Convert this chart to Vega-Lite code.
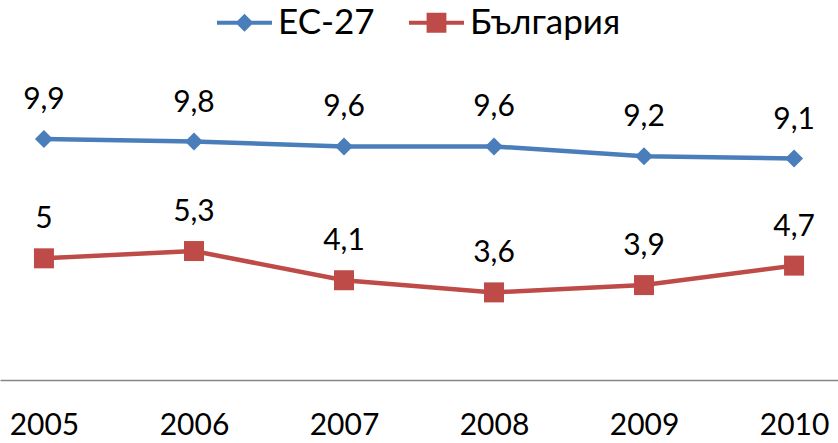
{
  "$schema": "https://vega.github.io/schema/vega-lite/v6.json",
  "width": 838,
  "height": 292,
  "autosize": {"type": "none"},
  "padding": {"top": 88, "left": 0, "right": 0, "bottom": 63},
  "config": {
    "view": {"stroke": null},
    "font": "Lato",
    "locale": {"number": {"decimal": ",", "thousands": " ", "grouping": [3], "currency": ["", ""]}}
  },
  "data": {
    "values": [
      {"year": "2005", "series": "ЕС-27", "value": 9.9},
      {"year": "2006", "series": "ЕС-27", "value": 9.8},
      {"year": "2007", "series": "ЕС-27", "value": 9.6},
      {"year": "2008", "series": "ЕС-27", "value": 9.6},
      {"year": "2009", "series": "ЕС-27", "value": 9.2},
      {"year": "2010", "series": "ЕС-27", "value": 9.1},
      {"year": "2005", "series": "България", "value": 5.0},
      {"year": "2006", "series": "България", "value": 5.3},
      {"year": "2007", "series": "България", "value": 4.1},
      {"year": "2008", "series": "България", "value": 3.6},
      {"year": "2009", "series": "България", "value": 3.9},
      {"year": "2010", "series": "България", "value": 4.7}
    ]
  },
  "encoding": {
    "x": {
      "field": "year",
      "type": "ordinal",
      "scale": {"type": "point", "padding": 0.293},
      "axis": {
        "title": null,
        "labelAngle": 0,
        "labelFont": "Lato",
        "labelFontSize": 30,
        "labelColor": "#000000",
        "labelPadding": 30,
        "ticks": false,
        "grid": false,
        "domainColor": "#868686",
        "domainWidth": 1.5
      }
    },
    "y": {
      "field": "value",
      "type": "quantitative",
      "scale": {"domain": [0, 12], "nice": false, "zero": true},
      "axis": null
    }
  },
  "layer": [
    {
      "mark": {"type": "line", "strokeWidth": 4.5},
      "encoding": {
        "color": {
          "field": "series",
          "type": "nominal",
          "scale": {"domain": ["ЕС-27", "България"], "range": ["#4a7ebb", "#be4b48"]},
          "legend": {
            "title": null,
            "orient": "none",
            "legendX": 217,
            "legendY": -93,
            "padding": 0,
            "direction": "horizontal",
            "labelFont": "Lato",
            "labelFontSize": 35,
            "labelColor": "#000000",
            "labelOffset": 6,
            "columnPadding": 34,
            "symbolSize": 3025,
            "encode": {
              "symbols": {
                "update": {
                  "shape": {"signal": "datum.value === 'ЕС-27' ? 'M-1,-0.075L-0.255,-0.075L0,-0.33L0.255,-0.075L1,-0.075L1,0.075L0.255,0.075L0,0.33L-0.255,0.075L-1,0.075Z' : 'M-1,-0.075L-0.36,-0.075L-0.36,-0.36L0.36,-0.36L0.36,-0.075L1,-0.075L1,0.075L0.36,0.075L0.36,0.36L-0.36,0.36L-0.36,0.075L-1,0.075Z'"},
                  "size": {"value": 3025},
                  "fill": {"signal": "scale('color', datum.value)"},
                  "fillOpacity": {"value": 1},
                  "strokeWidth": {"value": 0}
                }
              }
            }
          }
        }
      }
    },
    {
      "transform": [{"filter": "datum.series === 'ЕС-27'"}],
      "mark": {"type": "point", "filled": true, "opacity": 1, "shape": "diamond", "size": 324, "color": "#4a7ebb"}
    },
    {
      "transform": [{"filter": "datum.series === 'България'"}],
      "mark": {"type": "point", "filled": true, "opacity": 1, "shape": "square", "size": 400, "color": "#be4b48"}
    },
    {
      "mark": {"type": "text", "dy": -30, "baseline": "alphabetic", "font": "Lato", "fontSize": 30, "color": "#000000"},
      "encoding": {
        "text": {"field": "value", "type": "quantitative", "format": ".2~g"}
      }
    }
  ]
}
